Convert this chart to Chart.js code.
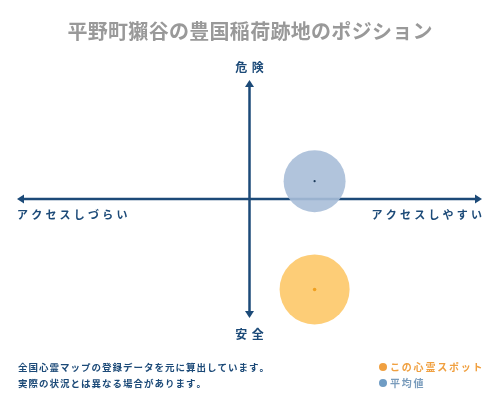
<!DOCTYPE html>
<html><head><meta charset="utf-8">
<script src="https://cdn.jsdelivr.net/npm/chart.js@4"></script>
<style>html,body{margin:0;padding:0;background:#fff;}#wrap{width:500px;height:400px;position:relative;}</style>
</head><body><div id="wrap"><canvas id="c" width="500" height="400"></canvas></div>
<script>
const titleText = '平野町獺谷の豊国稲荷跡地のポジション';
const axisLabels = { top: '危 険', bottom: '安 全', left: 'アクセスしづらい', right: 'アクセスしやすい' };
const noteLines = ['全国心霊マップの登録データを元に算出しています。', '実際の状況とは異なる場合があります。'];
const seriesNames = ['この心霊スポット', '平均値'];
const spotX = [2.8];
const spotY = [-7.6];
const spotR = [35];
const avgX = [2.8];
const avgY = [1.5];
const avgR = [31];

const navy = '#1c4a78';
const FONT = '"Noto Sans CJK JP", "Noto Sans", sans-serif';

function spaced(ctx, text, x, y, spacing, align) {
  const chars = [...text];
  let total = 0;
  chars.forEach((ch, i) => { total += ctx.measureText(ch).width + (i < chars.length - 1 ? spacing : 0); });
  let sx = align === 'center' ? x - total / 2 : align === 'right' ? x - total : x;
  ctx.textAlign = 'left';
  chars.forEach(ch => { ctx.fillText(ch, sx, y); sx += ctx.measureText(ch).width + spacing; });
}

const decor = {
  id: 'decor',
  beforeDatasetsDraw(chart) {
    const { ctx, scales: { x, y } } = chart;
    const cx = x.getPixelForValue(0), cy = y.getPixelForValue(0);
    const l = x.getPixelForValue(-10), r = x.getPixelForValue(10);
    const t = y.getPixelForValue(10), b = y.getPixelForValue(-10);
    ctx.save();
    ctx.strokeStyle = navy; ctx.fillStyle = navy; ctx.lineWidth = 2.5;
    ctx.beginPath(); ctx.moveTo(l + 4, cy); ctx.lineTo(r - 4, cy); ctx.stroke();
    ctx.beginPath(); ctx.moveTo(cx, t + 4); ctx.lineTo(cx, b - 4); ctx.stroke();
    const tri = (p) => { ctx.beginPath(); ctx.moveTo(...p[0]); ctx.lineTo(...p[1]); ctx.lineTo(...p[2]); ctx.closePath(); ctx.fill(); };
    tri([[l, cy], [l + 7, cy - 4.5], [l + 7, cy + 4.5]]);
    tri([[r, cy], [r - 7, cy - 4.5], [r - 7, cy + 4.5]]);
    tri([[cx, t], [cx - 4.5, t + 7], [cx + 4.5, t + 7]]);
    tri([[cx, b], [cx - 4.5, b - 7], [cx + 4.5, b - 7]]);
    ctx.restore();
  },
  afterDatasetsDraw(chart) {
    const { ctx, scales: { x, y } } = chart;
    const cx = x.getPixelForValue(0), cy = y.getPixelForValue(0);
    const l = x.getPixelForValue(-10), r = x.getPixelForValue(10);
    const t = y.getPixelForValue(10), b = y.getPixelForValue(-10);
    ctx.save();
    // centre dots
    ctx.fillStyle = '#1c3a5a';
    ctx.beginPath(); ctx.arc(x.getPixelForValue(avgX[0]), y.getPixelForValue(avgY[0]), 1.1, 0, Math.PI * 2); ctx.fill();
    ctx.fillStyle = '#f0a020';
    ctx.beginPath(); ctx.arc(x.getPixelForValue(spotX[0]), y.getPixelForValue(spotY[0]), 1.8, 0, Math.PI * 2); ctx.fill();
    // title
    ctx.fillStyle = '#999999';
    ctx.font = 'bold 20px ' + FONT; ctx.textBaseline = 'middle';
    spaced(ctx, titleText, 250, 31, 0.3, 'center');
    // axis labels
    ctx.fillStyle = navy;
    ctx.font = 'bold 12px ' + FONT;
    spaced(ctx, axisLabels.top, cx, t - 13, 1, 'center');
    spaced(ctx, axisLabels.bottom, cx, b + 16, 1, 'center');
    ctx.font = 'bold 11px ' + FONT;
    spaced(ctx, axisLabels.left, l, cy + 16, 3.2, 'left');
    spaced(ctx, axisLabels.right, r, cy + 16, 3.2, 'right');
    // notes
    ctx.font = 'bold 9.5px ' + FONT;
    spaced(ctx, noteLines[0], 18, 367, 1.0, 'left');
    spaced(ctx, noteLines[1], 18, 383, 1.0, 'left');
    // legend
    ctx.fillStyle = '#f0a040';
    ctx.beginPath(); ctx.arc(383, 367, 4, 0, Math.PI * 2); ctx.fill();
    ctx.font = 'bold 10px ' + FONT;
    spaced(ctx, seriesNames[0], 390, 367, 1.8, 'left');
    ctx.fillStyle = '#6f9cc4';
    ctx.beginPath(); ctx.arc(383, 383, 4, 0, Math.PI * 2); ctx.fill();
    ctx.fillStyle = '#7a9cbc';
    spaced(ctx, seriesNames[1], 390, 383, 1.8, 'left');
    ctx.restore();
  }
};

new Chart(document.getElementById('c'), {
  type: 'bubble',
  data: {
    datasets: [
      { label: seriesNames[1], data: avgX.map((v, i) => ({ x: v, y: avgY[i], r: avgR[i] })), backgroundColor: 'rgba(168,190,216,0.9)', borderWidth: 0, clip: false, order: 1 },
      { label: seriesNames[0], data: spotX.map((v, i) => ({ x: v, y: spotY[i], r: spotR[i] })), backgroundColor: 'rgba(253,202,112,0.95)', borderWidth: 0, clip: false, order: 2 }
    ]
  },
  options: {
    responsive: false, animation: false, devicePixelRatio: 1,
    layout: { autoPadding: false, padding: { left: 17, right: 18, top: 80, bottom: 82 } },
    scales: {
      x: { display: false, min: -10, max: 10 },
      y: { display: false, min: -10, max: 10 }
    },
    plugins: { legend: { display: false }, tooltip: { enabled: false }, title: { display: false } }
  },
  plugins: [decor]
});
</script></body></html>
